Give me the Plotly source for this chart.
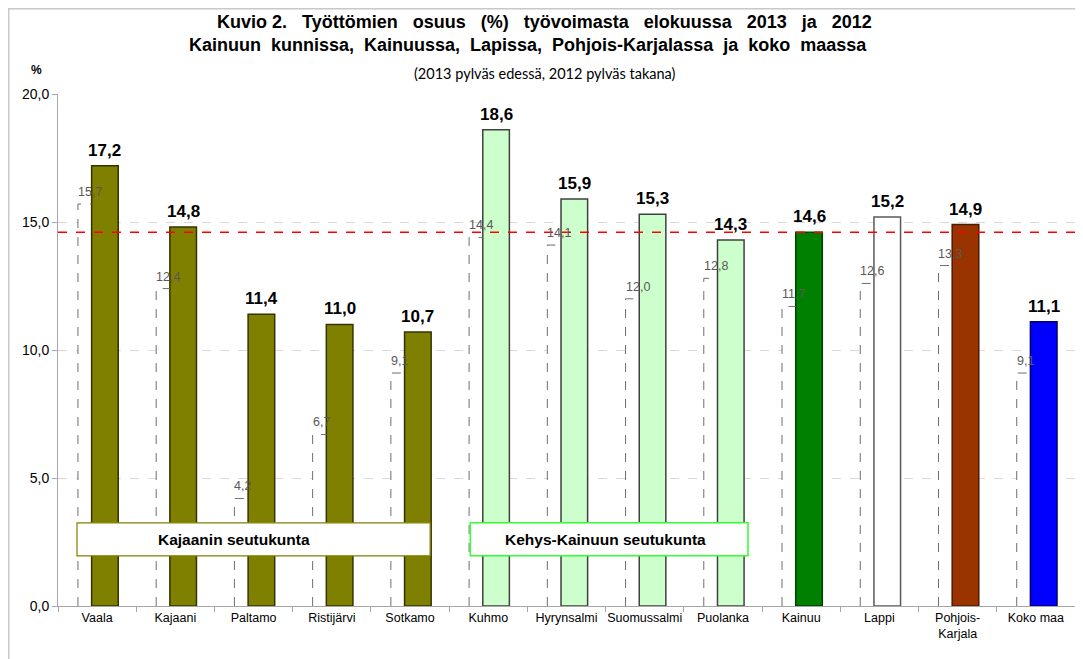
import plotly.graph_objects as go

places = ["Vaala", "Kajaani", "Paltamo", "Ristijärvi", "Sotkamo", "Kuhmo", "Hyrynsalmi",
          "Suomussalmi", "Puolanka", "Kainuu", "Lappi", "Pohjois-<br>Karjala", "Koko maa"]
rate_2013 = [17.2, 14.8, 11.4, 11.0, 10.7, 18.6, 15.9, 15.3, 14.3, 14.6, 15.2, 14.9, 11.1]
rate_2012 = [15.7, 12.4, 4.2, 6.7, 9.1, 14.4, 14.1, 12.0, 12.8, 11.7, 12.6, 13.3, 9.1]
bar_colors = ["#808000"] * 5 + ["#ccffcc"] * 4 + ["#008000", "#ffffff", "#993300", "#0000ff"]
edge_colors = ["#333300"] * 5 + ["#404040"] * 4 + ["#004000", "#595959", "#4d1a00", "#000066"]

groups = ["Kajaanin seutukunta", "Kehys-Kainuun seutukunta"]
kainuu_rate = rate_2013[places.index("Kainuu")]


def fi(v):
    return f"{v:.1f}".replace(".", ",")


xs = list(range(len(places)))
w = 0.34
off_new = -0.07
off_old = -0.245

fig = go.Figure()

# 2012 bars behind (white), dashed outline added below
fig.add_trace(go.Bar(x=xs, y=rate_2012, offset=off_old, width=w,
                     marker=dict(color="white", line=dict(width=0)),
                     hoverinfo="skip"))

fig.add_trace(go.Bar(x=xs, y=rate_2013, offset=off_new, width=w,
                     marker=dict(color=bar_colors, line=dict(color=edge_colors, width=1.5))))

ox, oy = [], []
for i, v in enumerate(rate_2012):
    ox += [i + off_old, i + off_old, i + off_new, None]
    oy += [0, v, v, None]
fig.add_trace(go.Scatter(x=ox, y=oy, mode="lines", hoverinfo="skip",
                         line=dict(color="#6e6e6e", width=1, dash="dash")))

for i, v in enumerate(rate_2012):
    fig.add_annotation(x=i + off_old, y=v, text=fi(v), showarrow=False,
                       xanchor="left", yanchor="bottom", xshift=-2, yshift=3,
                       font=dict(family="Liberation Sans", size=12.5, color="#595959"))

for i, v in enumerate(rate_2013):
    fig.add_annotation(x=i + off_new + w / 2, y=v, text="<b>" + fi(v) + "</b>", showarrow=False,
                       xanchor="center", yanchor="bottom", yshift=4,
                       font=dict(family="Liberation Sans", size=17, color="black"))

# Kainuu reference line
fig.add_shape(type="line", xref="paper", x0=0, x1=1, yref="y", y0=kainuu_rate, y1=kainuu_rate,
              line=dict(color="#ff0000", width=1.5, dash="dash"))

# group boxes
fig.add_shape(type="rect", x0=-0.257, x1=4.257, y0=1.96, y1=3.25, fillcolor="white",
              line=dict(color="#808000", width=1.2))
fig.add_shape(type="rect", x0=4.77, x1=8.32, y0=1.96, y1=3.25, fillcolor="white",
              line=dict(color="#33ff33", width=1.5))
fig.add_annotation(x=1.75, y=2.6, text="<b>" + groups[0] + "</b>", showarrow=False,
                   font=dict(family="Liberation Sans", size=15.5, color="black"))
fig.add_annotation(x=6.5, y=2.6, text="<b>" + groups[1] + "</b>", showarrow=False,
                   font=dict(family="Liberation Sans", size=15.5, color="black"))

# outer frame
fig.add_shape(type="rect", xref="paper", yref="paper", x0=-0.0487, x1=1.2, y0=-0.3, y1=1.167,
              line=dict(color="#c8c8c8", width=2), layer="below")

# titles
gap = "&nbsp;&nbsp; "
fig.add_annotation(xref="paper", yref="paper", x=(544 - 58) / 1017, y=(606 - 22) / 512,
                   xanchor="center", yanchor="middle",
                   text="<b>Kuvio 2." + gap + gap.join(["Työttömien", "osuus", "(%)", "työvoimasta",
                                                         "elokuussa", "2013", "ja", "2012"]) + "</b>",
                   showarrow=False, font=dict(family="Liberation Sans", size=18, color="black"))
fig.add_annotation(xref="paper", yref="paper", x=(528 - 58) / 1017, y=(606 - 45) / 512,
                   xanchor="center", yanchor="middle",
                   text="<b>Kainuun&nbsp; kunnissa,&nbsp; Kainuussa,&nbsp; Lapissa,&nbsp; "
                        "Pohjois-Karjalassa&nbsp; ja&nbsp; koko&nbsp; maassa</b>",
                   showarrow=False, font=dict(family="Liberation Sans", size=18, color="black"))
fig.add_annotation(xref="paper", yref="paper", x=(545 - 58) / 1017, y=(606 - 73) / 512,
                   xanchor="center", yanchor="middle",
                   text="(2013 pylväs edessä, 2012 pylväs takana)",
                   showarrow=False, font=dict(family="Lato", size=14.5, color="black"))
fig.add_annotation(xref="paper", yref="paper", x=(36 - 58) / 1017, y=(606 - 70) / 512,
                   xanchor="center", yanchor="middle",
                   text="<b>%</b>", showarrow=False,
                   font=dict(family="Liberation Sans", size=12, color="black"))

fig.update_xaxes(range=[-0.5, len(places) - 0.5], tickvals=xs, ticktext=places,
                 showgrid=False, zeroline=False, showline=True, linecolor="#a6a6a6",
                 ticks="", tickfont=dict(family="Liberation Sans", size=12.5, color="black"),
                 minor=dict(tickvals=[i - 0.5 for i in range(len(places) + 1)], ticks="outside",
                            ticklen=5, tickcolor="#a6a6a6", showgrid=False))
fig.update_yaxes(range=[0, 20], dtick=5, tickformat=".1f", showgrid=True, gridcolor="#d9d9d9",
                 griddash="dash", zeroline=False, showline=True, linecolor="#a6a6a6", mirror=True,
                 ticks="outside", ticklen=5, tickcolor="#a6a6a6",
                 tickfont=dict(family="Liberation Sans", size=14, color="black"))

# page body has an 8px margin, so the figure is shrunk and shifted to land on the reference frame
fig.update_layout(width=1075, height=651, margin=dict(l=50, r=8, t=86, b=53),
                  plot_bgcolor="white", paper_bgcolor="white", showlegend=False,
                  separators=", ", barmode="overlay")

fig.write_html("out.html")
